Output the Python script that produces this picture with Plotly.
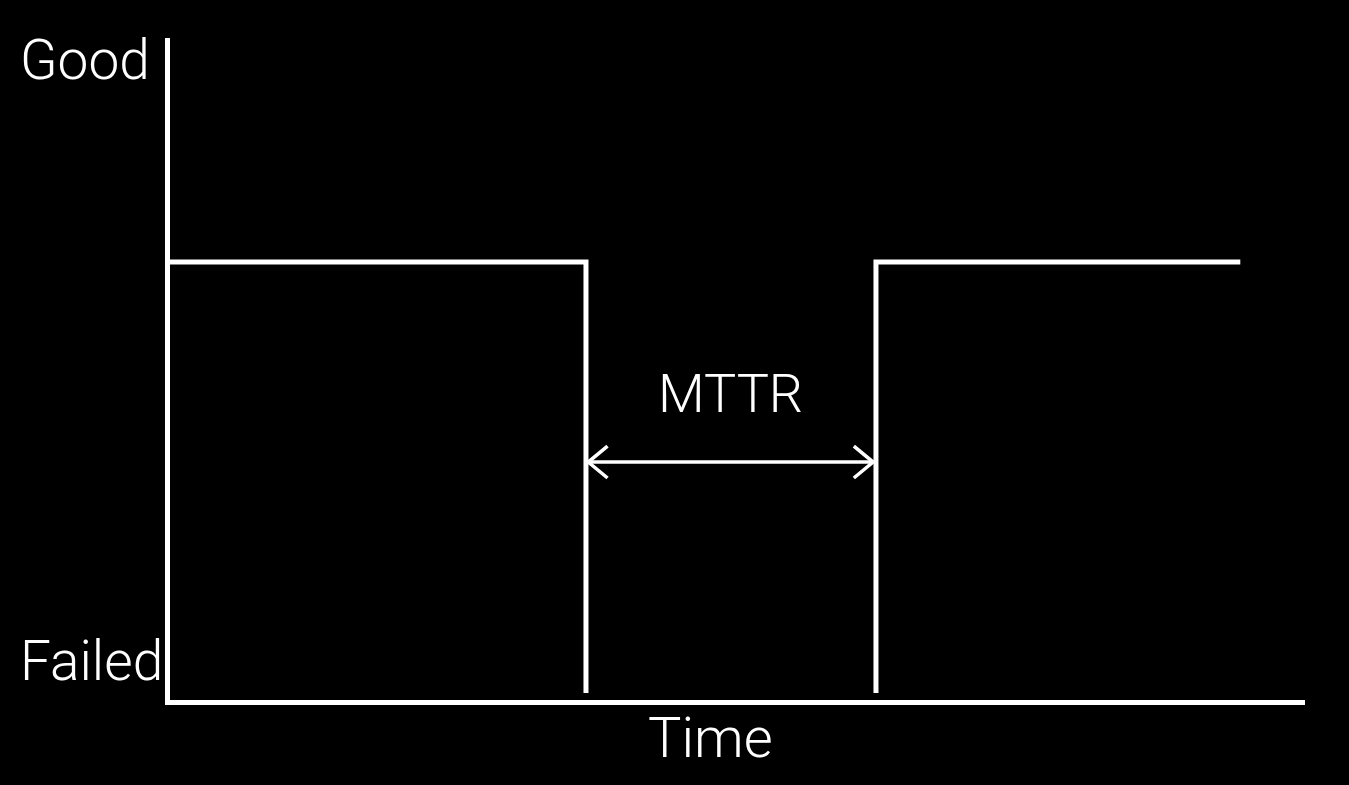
import plotly.graph_objects as go

# ---- data ----
# status trace drawn as two pieces: running until failure, then running again after repair
time_up1 = [0.0, 36.65, 36.65]
state_up1 = [1, 1, 0]
time_up2 = [62.2, 62.2, 94.3]
state_up2 = [0, 1, 1]
fail_time = 36.65
repair_time = 62.2
state_labels = ["Good", "Failed"]
x_label = "Time"
interval_label = "MTTR"

# ---- style / layout constants ----
X_RANGE = [0, 100]
Y_RANGE = [-0.0162, 1.52]
ARROW_Y = 0.536
HEAD_DX = 1.7
HEAD_DY = 0.037
FONT = "Roboto, DejaVu Sans Condensed, sans-serif"
WHITE = "#ffffff"

fig = go.Figure()

for tx, sy in [(time_up1, state_up1), (time_up2, state_up2)]:
    fig.add_trace(go.Scatter(
        x=tx, y=sy, mode="lines",
        line=dict(color=WHITE, width=5),
        hoverinfo="skip", showlegend=False))

# MTTR double arrow shaft
a0 = fail_time + 0.2
a1 = repair_time - 0.25
fig.add_trace(go.Scatter(
    x=[a0, a1], y=[ARROW_Y, ARROW_Y], mode="lines",
    line=dict(color=WHITE, width=3.5), hoverinfo="skip", showlegend=False))
# open chevron heads
fig.add_trace(go.Scatter(
    x=[a0 + HEAD_DX, a0, a0 + HEAD_DX], y=[ARROW_Y + HEAD_DY, ARROW_Y, ARROW_Y - HEAD_DY],
    mode="lines", line=dict(color=WHITE, width=3.5), hoverinfo="skip", showlegend=False))
fig.add_trace(go.Scatter(
    x=[a1 - HEAD_DX, a1, a1 - HEAD_DX], y=[ARROW_Y + HEAD_DY, ARROW_Y, ARROW_Y - HEAD_DY],
    mode="lines", line=dict(color=WHITE, width=3.5), hoverinfo="skip", showlegend=False))

def txt(size):
    return dict(family=FONT, size=size, color=WHITE, weight=300)

annotations = [
    dict(text=interval_label, x=(fail_time + repair_time) / 2, y=ARROW_Y, xref="x", yref="y",
         yshift=69, xanchor="center", yanchor="middle", showarrow=False, font=txt(54)),
    dict(text=state_labels[0], x=-0.134, y=(700 - 60) / 662, xref="paper", yref="paper",
         xanchor="left", yanchor="middle", showarrow=False, font=txt(55)),
    dict(text=state_labels[1], x=-0.134, y=(700 - 661) / 662, xref="paper", yref="paper",
         xanchor="left", yanchor="middle", showarrow=False, font=txt(55)),
    dict(text=x_label, x=(710 - 170) / 1135, y=(700 - 738) / 662, xref="paper", yref="paper",
         xanchor="center", yanchor="middle", showarrow=False, font=txt(56)),
]

fig.update_layout(
    width=1349, height=785,
    margin=dict(l=170, r=44, t=38, b=85),
    paper_bgcolor="#000000", plot_bgcolor="#000000",
    showlegend=False,
    annotations=annotations,
    xaxis=dict(range=X_RANGE, showgrid=False, zeroline=False, showticklabels=False,
               ticks="", showline=True, linecolor=WHITE, linewidth=5, fixedrange=True),
    yaxis=dict(range=Y_RANGE, showgrid=False, zeroline=False, showticklabels=False,
               ticks="", showline=True, linecolor=WHITE, linewidth=5, fixedrange=True),
)

fig.write_html("out.html", config={"displayModeBar": False},
               post_script="document.body.style.margin='0';document.body.style.background='#000';")
